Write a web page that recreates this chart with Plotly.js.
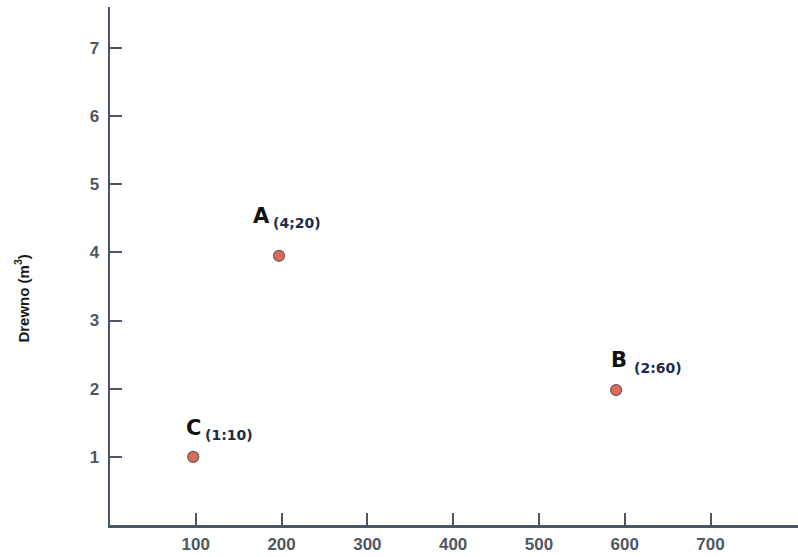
<!DOCTYPE html>
<html>
<head>
<meta charset="utf-8">
<script src="https://cdn.plot.ly/plotly-3.0.1.min.js"></script>
<style>html,body{margin:0;padding:0;background:#fff;}#chart{width:798px;height:557px;}</style>
</head>
<body>
<div id="chart"></div>
<script>
const pointNames = ["A", "B", "C"];
const pointTags = ["(4;20)", "(2:60)", "(1:10)"];
const xValues = [197, 590, 97];
const yValues = [3.95, 1.98, 1];
const xTicks = [100, 200, 300, 400, 500, 600, 700];
const yTicks = [1, 2, 3, 4, 5, 6, 7];
const yTitle = "Drewno (m<sup>3</sup>)";

const axisColor = "#4a5663";
const tickFont = {family: "Liberation Sans, Arial, sans-serif", size: 17, color: "#50575f", weight: "bold"};

const trace = {
  x: xValues, y: yValues, mode: "markers", type: "scatter",
  marker: {size: 11, color: "#dd6b5c", line: {color: "#6a5a58", width: 1.2}},
  hoverinfo: "skip", showlegend: false
};

const letterOffsets = [[-18, -40], [3, -30], [0, -29]];
const tagOffsets = [[18, -33], [42, -22], [36, -22]];
const annotations = [];
pointNames.forEach((n, i) => {
  annotations.push({
    x: xValues[i], y: yValues[i], xref: "x", yref: "y",
    text: "<b>" + n + "</b>",
    showarrow: true, arrowcolor: "rgba(0,0,0,0)", arrowwidth: 0.1,
    ax: letterOffsets[i][0], ay: letterOffsets[i][1],
    xanchor: "center", yanchor: "middle",
    font: {family: "DejaVu Sans, sans-serif", size: 21, color: "#111111"}
  });
  annotations.push({
    x: xValues[i], y: yValues[i], xref: "x", yref: "y",
    text: "<b>" + pointTags[i] + "</b>",
    showarrow: true, arrowcolor: "rgba(0,0,0,0)", arrowwidth: 0.1,
    ax: tagOffsets[i][0], ay: tagOffsets[i][1],
    xanchor: "center", yanchor: "middle",
    font: {family: "DejaVu Sans, sans-serif", size: 14, color: "#1d2b4a"}
  });
});
annotations.push({
  xref: "paper", yref: "paper", x: -0.128, y: 0.437, textangle: -90,
  xanchor: "center", yanchor: "middle",
  text: "<b>" + yTitle + "</b>", showarrow: false,
  font: {family: "Liberation Sans, Arial, sans-serif", size: 15, color: "#1a1a1a"}
});

const layout = {
  width: 798, height: 557,
  margin: {l: 110, r: 0, t: 7, b: 32},
  paper_bgcolor: "#ffffff", plot_bgcolor: "#ffffff",
  xaxis: {
    range: [0, 802], tickvals: xTicks, ticktext: xTicks.map(String),
    showgrid: false, zeroline: false, showline: true, linecolor: axisColor, linewidth: 2.5,
    ticks: "inside", ticklen: 12, tickwidth: 2, tickcolor: axisColor, tickfont: tickFont,
    ticklabelstandoff: 2
  },
  yaxis: {
    range: [0, 7.6], tickvals: yTicks, ticktext: yTicks.map(String),
    showgrid: false, zeroline: false, showline: true, linecolor: axisColor, linewidth: 2.5,
    ticks: "inside", ticklen: 12, tickwidth: 2, tickcolor: axisColor, tickfont: tickFont,
    ticklabelstandoff: 5
  },
  annotations: annotations
};
Plotly.newPlot("chart", [trace], layout, {displayModeBar: false, staticPlot: true});
</script>
</body>
</html>
